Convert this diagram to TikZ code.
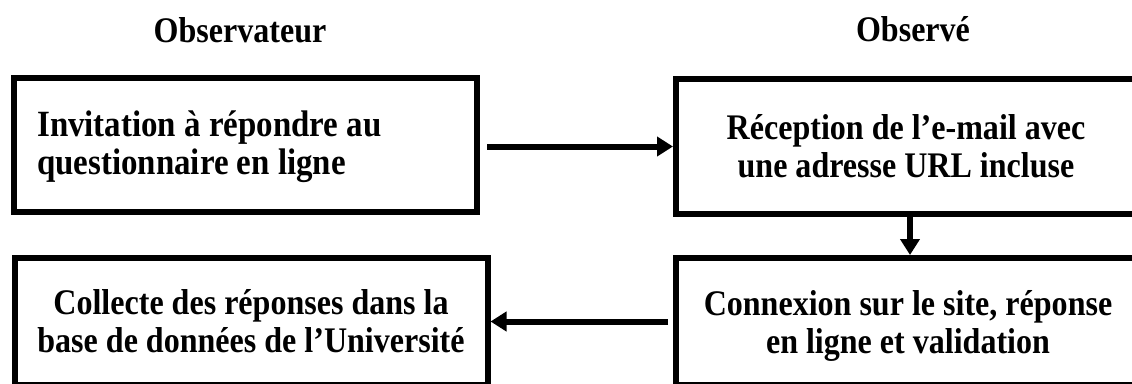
\documentclass[tikz,border=0pt]{standalone}
\usepackage{fontspec}
\setmainfont{Liberation Serif}[FakeStretch=0.89]
\usetikzlibrary{arrows.meta,positioning}
\tikzset{etape/.style ={
        draw=black,
        line width=6pt,
        inner sep=0pt,
    },
    txt/.style ={
        font=\bfseries\fontsize{36}{38}\selectfont,
        inner sep=0pt,
    },
    titre/.style ={
        font=\bfseries\fontsize{36}{38}\selectfont,
        inner sep=0pt,
        anchor=base,
    },
    fleche/.style ={
        draw,
        line width=6pt,
        -{Triangle[length=16pt,width=19pt]},
    }}
\begin{document}
\begin{tikzpicture}[x=1pt,y=-1pt]
	\useasboundingbox (0,0) rectangle (1132,383);
	% en-tetes
	\node[titre] (obs) at (240,42) {Observateur};
	\node[titre] (obe) at (913,41) {Observé};
	% cadres
	\node[etape, minimum width=463, minimum height=134] (inv) at (245.5,144.5) {};
	\node[etape, minimum width=468, minimum height=135] (rec) at (910,146.5) {};
	\node[etape, minimum width=473, minimum height=127] (col) at (251,321.5) {};
	\node[etape, minimum width=468, minimum height=127] (con) at (910,321.5) {};
	% textes
	\node[txt, font=\bfseries\fontsize{37}{38}\selectfont, align=left, anchor=west] (invtxt) at (37,147) {Invitation à répondre au\\questionnaire en ligne};
	\node[txt, align=center] (rectxt) at (906,146.5) {Réception de l’e-mail avec\\une adresse URL incluse};
	\node[txt, align=center] (coltxt) at (251,321.5) {Collecte des réponses dans la\\base de données de l’Université};
	\node[txt, align=center] (contxt) at (908,326) {Connexion sur le site, réponse\\en ligne et validation};
	% fleches
	\draw[fleche, shorten <=7pt] (inv.east |- rec.west) -- (rec.west);
	\draw[fleche] (rec.south) -- (con.north);
	\draw[fleche, shorten <=5pt] (con.west) -- (con.west -| col.east);
\end{tikzpicture}
\end{document}
